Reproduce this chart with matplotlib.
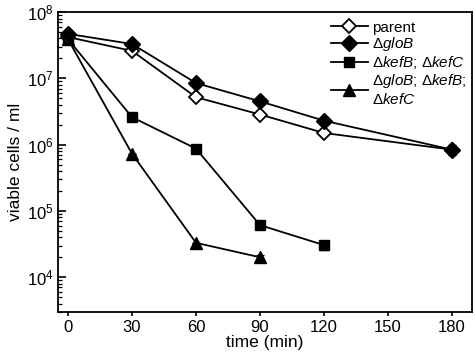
import matplotlib
matplotlib.use("Agg")
import matplotlib.pyplot as plt
from matplotlib.ticker import LogLocator, LogFormatterMathtext, NullFormatter
from matplotlib.lines import Line2D
import numpy as np

plt.rcParams['font.family'] = ['Liberation Sans', 'DejaVu Sans']
plt.rcParams['mathtext.fontset'] = 'custom'
plt.rcParams['mathtext.rm'] = 'Liberation Sans'
plt.rcParams['mathtext.it'] = 'Liberation Sans:italic'
plt.rcParams['mathtext.bf'] = 'Liberation Sans:bold'

time_parent = [0, 30, 60, 90, 120, 180]
parent = [4.2e7, 2.6e7, 5.2e6, 2.85e6, 1.5e6, 8.4e5]
parent_err = [0, 0, 0, 0, 0, 0]

time_globB = [0, 30, 60, 90, 120, 180]
globB = [4.7e7, 3.3e7, 8.5e6, 4.5e6, 2.3e6, 8.4e5]
globB_err = [0, 0, 0, 0, 0, 1.5e5]

time_kef = [0, 30, 60, 90, 120]
kef = [3.9e7, 2.6e6, 8.7e5, 6.1e4, 3.05e4]
kef_err = [0, 0, 0, 5e3, 4.5e3]

time_triple = [0, 30, 60, 90]
triple = [3.9e7, 7.3e5, 3.3e4, 2.0e4]
triple_err = [0, 0, 0, 1.5e3]

labels = ['parent',
          r'Δ$\it{gloB}$',
          r'Δ$\it{kefB}$; Δ$\it{kefC}$',
          'Δ$\\it{gloB}$; Δ$\\it{kefB}$;\nΔ$\\it{kefC}$']

fig = plt.figure(figsize=(4.75, 3.56), dpi=100)
ax = fig.add_axes([0.122, 0.124, 0.872, 0.842])

lw = 1.3
common = dict(color='black', linewidth=lw, capsize=3, elinewidth=1.0, capthick=1.0)
styles = {
    'triple': dict(marker='^', markersize=9, markerfacecolor='black', markeredgecolor='black'),
    'kef': dict(marker='s', markersize=7.5, markerfacecolor='black', markeredgecolor='black'),
    'parent': dict(marker='D', markersize=7.5, markerfacecolor='white', markeredgecolor='black',
                   markeredgewidth=1.3),
    'globB': dict(marker='D', markersize=8, markerfacecolor='black', markeredgecolor='black'),
}
ax.errorbar(time_triple, triple, yerr=triple_err, **styles['triple'], **common)
ax.errorbar(time_kef, kef, yerr=kef_err, **styles['kef'], **common)
ax.errorbar(time_parent, parent, yerr=parent_err, **styles['parent'], **common)
ax.errorbar(time_globB, globB, yerr=globB_err, **styles['globB'], **common)

ax.set_yscale('log')
ax.set_ylim(3e3, 1e8)
ax.set_xlim(-4.7, 189.4)
ax.set_xticks([0, 30, 60, 90, 120, 150, 180])
ax.yaxis.set_major_locator(LogLocator(base=10, numticks=10))
ax.yaxis.set_major_formatter(LogFormatterMathtext())
ax.yaxis.set_minor_locator(LogLocator(base=10, subs=np.arange(2, 10), numticks=20))
ax.yaxis.set_minor_formatter(NullFormatter())

ax.tick_params(axis='y', which='major', direction='in', length=6, width=1.2, labelsize=12, right=False, pad=3)
ax.tick_params(axis='y', which='minor', direction='in', length=3, width=0.9, right=False)
ax.tick_params(axis='x', which='major', direction='out', length=3, width=1.2, labelsize=12, top=False, pad=3)
for s in ax.spines.values():
    s.set_linewidth(1.3)

ax.set_xlabel('time (min)', fontsize=12.5, labelpad=0)
ax.set_ylabel('viable cells / ml', fontsize=12.5, labelpad=3)

handles = [Line2D([], [], color='black', linewidth=lw, **styles[k])
           for k in ['parent', 'globB', 'kef', 'triple']]
leg_labels = [labels[0], labels[1], labels[2], labels[3]]
leg = ax.legend(handles, leg_labels,
                loc='upper right', frameon=False, fontsize=11,
                handlelength=2.4, handletextpad=0.3, labelspacing=0.05,
                borderaxespad=0.15, bbox_to_anchor=(1.008, 1.0))

fig.savefig('out.png', dpi=100)
